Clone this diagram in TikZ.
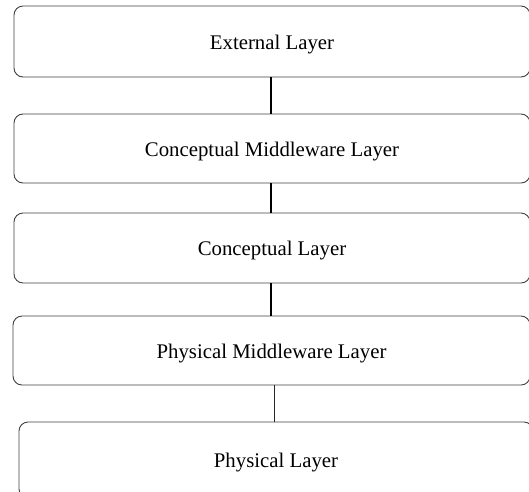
\documentclass[tikz,border=0pt]{standalone}
\usepackage{fontspec}
\setmainfont{Liberation Serif}
\begin{document}
\begin{tikzpicture}[x=1pt,y=-1pt,
  layer/.style={draw=black!75,line width=0.9pt,rounded corners=9pt,inner sep=0pt,
    text height=15.5pt,text depth=0pt,
    font=\fontsize{20.8}{24}\selectfont},
  thicklink/.style={draw=black,line width=2.6pt},
  thinlink/.style={draw=black!85,line width=1pt}]
\useasboundingbox (0,0) rectangle (529,491);
\clip (0,0) rectangle (529,491);
\node[layer,minimum width=516pt,minimum height=71pt] (b1) at (272,41.5) {External Layer};
\node[layer,minimum width=516pt,minimum height=69pt] (b2) at (272,148.5) {Conceptual Middleware Layer};
\node[layer,minimum width=516pt,minimum height=70pt] (b3) at (272,248) {Conceptual Layer};
\node[layer,minimum width=517pt,minimum height=69pt] (b4) at (271.5,350.5) {Physical Middleware Layer};
\node[layer,minimum width=514pt,minimum height=76pt] (b5) at (276,460) {Physical Layer};
\coordinate (c1) at (271,0);
\coordinate (c4) at (274,0);
\draw[thicklink] (b1.south -| c1) -- (b2.north -| c1);
\draw[thicklink] (b2.south -| c1) -- (b3.north -| c1);
\draw[thicklink] (b3.south -| c1) -- (b4.north -| c1);
\draw[thinlink] (b4.south -| c4) -- (b5.north -| c4);
\end{tikzpicture}
\end{document}
